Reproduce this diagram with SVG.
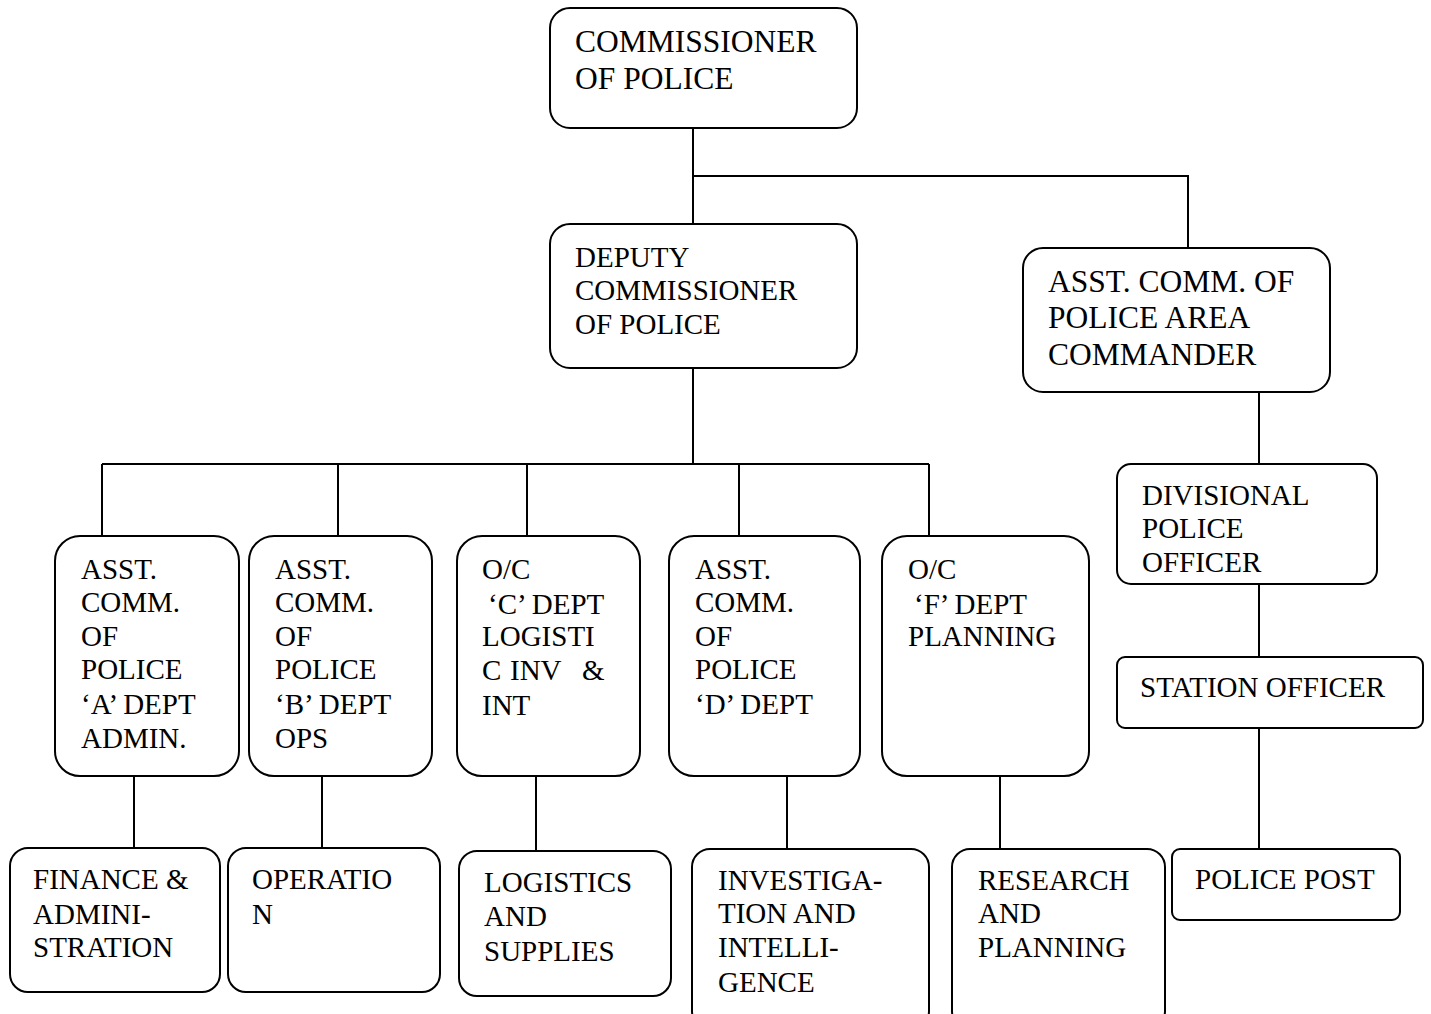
<svg xmlns="http://www.w3.org/2000/svg" width="1431" height="1014" viewBox="0 0 1431 1014">
<style>
.b{fill:#fff;stroke:#000;stroke-width:2}
.c{fill:none;stroke:#000;stroke-width:2}
text{font-family:"Liberation Serif","Times New Roman",serif;font-size:29px;fill:#000}
.L{font-size:31.5px}
</style>
<rect width="1431" height="1014" fill="#fff"/>
<g id="connectors">
<path class="c" d="M693 128V224M693 176H1188V248"/>
<path class="c" d="M693 368V464M102 464H929M102 464V536M338 464V536M527 464V536M739 464V536M929 464V536"/>
<path class="c" d="M134 776V848M322 776V848M536 776V851M787 776V849M1000 776V849"/>
<path class="c" d="M1259 392V464M1259 584V657M1259 728V849"/>
</g>
<g id="commissioner"><rect class="b" x="550" y="8" width="307" height="120" rx="20"/>
<text class="L" x="575"><tspan x="575" y="52">COMMISSIONER</tspan><tspan x="575" y="89">OF POLICE</tspan></text></g>
<g id="deputy"><rect class="b" x="550" y="224" width="307" height="144" rx="20"/>
<text x="575"><tspan x="575" y="267">DEPUTY</tspan><tspan x="575" y="300">COMMISSIONER</tspan><tspan x="575" y="334">OF POLICE</tspan></text></g>
<g id="area"><rect class="b" x="1023" y="248" width="307" height="144" rx="20"/>
<text class="L"><tspan x="1048" y="292">ASST. COMM. OF</tspan><tspan x="1048" y="328">POLICE AREA</tspan><tspan x="1048" y="365">COMMANDER</tspan></text></g>
<g id="divisional"><rect class="b" x="1117" y="464" width="260" height="120" rx="14"/>
<text><tspan x="1142" y="505">DIVISIONAL</tspan><tspan x="1142" y="538">POLICE</tspan><tspan x="1142" y="572">OFFICER</tspan></text></g>
<g id="station"><rect class="b" x="1117" y="657" width="306" height="71" rx="8"/>
<text x="1140" y="697">STATION OFFICER</text></g>
<g id="post"><rect class="b" x="1172" y="849" width="228" height="71" rx="8"/>
<text x="1195" y="889">POLICE POST</text></g>
<g id="deptA"><rect class="b" x="55" y="536" width="184" height="240" rx="25"/>
<text><tspan x="81" y="579">ASST.</tspan><tspan x="81" y="612">COMM.</tspan><tspan x="81" y="646">OF</tspan><tspan x="81" y="679">POLICE</tspan><tspan x="81" y="714">‘A’ DEPT</tspan><tspan x="81" y="748">ADMIN.</tspan></text></g>
<g id="deptB"><rect class="b" x="249" y="536" width="183" height="240" rx="25"/>
<text><tspan x="275" y="579">ASST.</tspan><tspan x="275" y="612">COMM.</tspan><tspan x="275" y="646">OF</tspan><tspan x="275" y="679">POLICE</tspan><tspan x="275" y="714">‘B’ DEPT</tspan><tspan x="275" y="748">OPS</tspan></text></g>
<g id="deptC"><rect class="b" x="457" y="536" width="183" height="240" rx="25"/>
<text><tspan x="482" y="579">O/C</tspan><tspan x="488" y="614">‘C’ DEPT</tspan><tspan x="482" y="646">LOGISTI</tspan><tspan x="482" y="680">C</tspan><tspan x="510" y="680">INV</tspan><tspan x="582" y="680">&amp;</tspan><tspan x="482" y="715">INT</tspan></text></g>
<g id="deptD"><rect class="b" x="669" y="536" width="191" height="240" rx="25"/>
<text><tspan x="695" y="579">ASST.</tspan><tspan x="695" y="612">COMM.</tspan><tspan x="695" y="646">OF</tspan><tspan x="695" y="679">POLICE</tspan><tspan x="695" y="714">‘D’ DEPT</tspan></text></g>
<g id="deptF"><rect class="b" x="882" y="536" width="207" height="240" rx="25"/>
<text><tspan x="908" y="579">O/C</tspan><tspan x="914" y="614">‘F’ DEPT</tspan><tspan x="908" y="646">PLANNING</tspan></text></g>
<g id="finance"><rect class="b" x="10" y="848" width="210" height="144" rx="18"/>
<text><tspan x="33" y="889">FINANCE &amp;</tspan><tspan x="33" y="924">ADMINI-</tspan><tspan x="33" y="957">STRATION</tspan></text></g>
<g id="operation"><rect class="b" x="228" y="848" width="212" height="144" rx="18"/>
<text><tspan x="252" y="889">OPERATIO</tspan><tspan x="252" y="924">N</tspan></text></g>
<g id="logistics"><rect class="b" x="459" y="851" width="212" height="145" rx="18"/>
<text><tspan x="484" y="892">LOGISTICS</tspan><tspan x="484" y="926">AND</tspan><tspan x="484" y="961">SUPPLIES</tspan></text></g>
<g id="investigation"><rect class="b" x="692" y="849" width="237" height="180" rx="18"/>
<text><tspan x="718" y="890">INVESTIGA-</tspan><tspan x="718" y="923">TION AND</tspan><tspan x="718" y="957">INTELLI-</tspan><tspan x="718" y="992">GENCE</tspan></text></g>
<g id="research"><rect class="b" x="952" y="849" width="213" height="180" rx="18"/>
<text><tspan x="978" y="890">RESEARCH</tspan><tspan x="978" y="923">AND</tspan><tspan x="978" y="957">PLANNING</tspan></text></g>
</svg>
